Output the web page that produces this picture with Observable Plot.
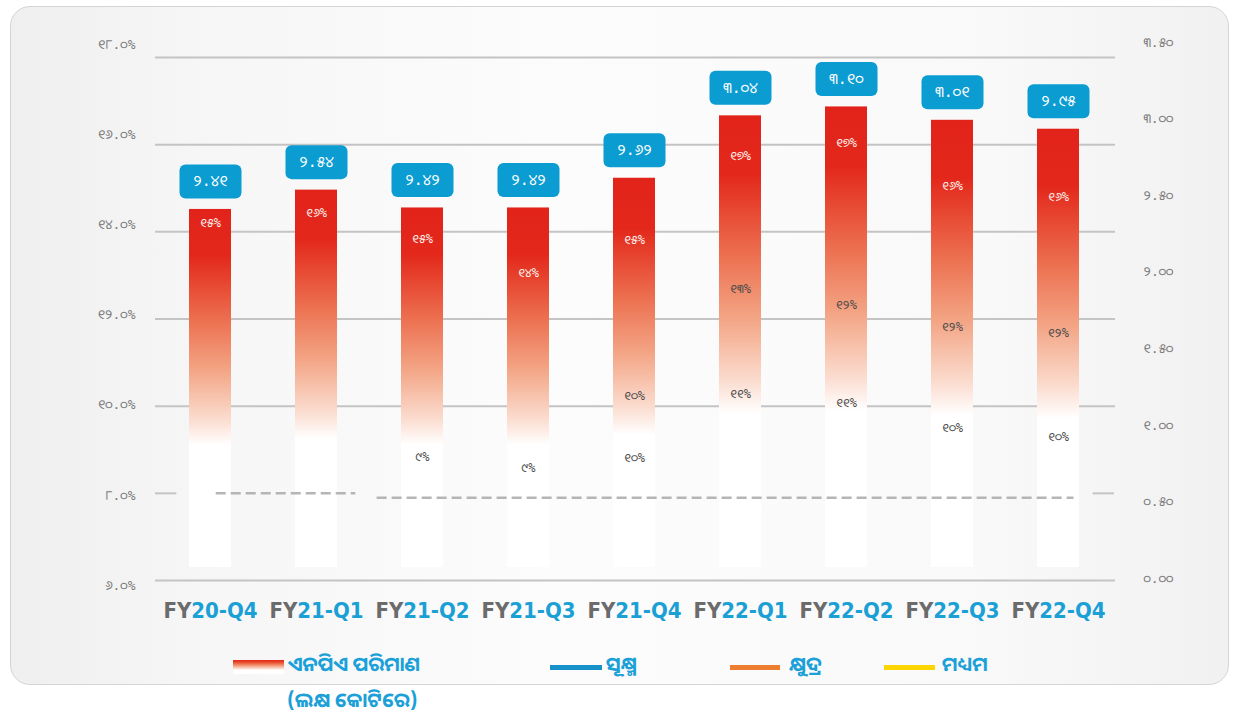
<!DOCTYPE html>
<html>
<head>
<meta charset="utf-8">
<script src="https://cdn.jsdelivr.net/npm/d3@7"></script>
<script src="https://cdn.jsdelivr.net/npm/@observablehq/plot@0.6"></script>
<style>
html, body { margin:0; padding:0; background:#ffffff; width:1239px; height:715px; overflow:hidden;
  font-family:"Noto Sans Oriya","Noto Sans Odia","Lohit Odia","Kalinga","Noto Sans","DejaVu Sans",sans-serif; }
#card { position:absolute; left:10px; top:6px; width:1219px; height:679px; box-sizing:border-box;
  border:1.5px solid #d4d4d4; border-radius:20px;
  background:linear-gradient(90deg,#efefef 0%,#f6f6f6 15%,#fcfcfc 45%,#f9f9f9 80%,#f1f1f1 100%); }
#chart { position:absolute; left:0; top:0; width:1239px; height:640px; }
#chart svg { position:absolute; left:0; top:0; overflow:visible; background:transparent; }
.leg { position:absolute; color:#1ba0d8; font-size:20px; font-weight:bold; line-height:1; white-space:nowrap; }
.sw { position:absolute; }
</style>
</head>
<body>
<svg width="0" height="0" style="position:absolute">
  <defs>
    <linearGradient id="barGrad" x1="0" y1="0" x2="0" y2="1">
      <stop offset="0" stop-color="#e2231a"/>
      <stop offset="0.13" stop-color="#e3281b"/>
      <stop offset="0.31" stop-color="#ec7050"/>
      <stop offset="0.45" stop-color="#f3a585"/>
      <stop offset="0.59" stop-color="#fbddd0"/>
      <stop offset="0.66" stop-color="#ffffff"/>
      <stop offset="1" stop-color="#ffffff"/>
    </linearGradient>
  </defs>
</svg>
<div id="card"></div>
<div id="chart"></div>

<div class="sw" style="left:233px;top:660px;width:51px;height:14px;background:linear-gradient(to bottom,#e2231a 0%,#e9502f 18%,#f29a78 40%,#fbd9cb 60%,#ffffff 72%,#ffffff 100%);"></div>
<div class="leg" style="left:288px;top:654px;">ଏନପିଏ ପରିମାଣ</div>
<div class="leg" style="left:287px;top:690px;">(ଲକ୍ଷ କୋଟିରେ)</div>
<div class="sw" style="left:550px;top:665px;width:52px;height:5px;background:#1791c9;"></div>
<div class="leg" style="left:606px;top:654px;">ସୂକ୍ଷ୍ମ</div>
<div class="sw" style="left:730px;top:665px;width:50px;height:5px;background:#ed7d31;"></div>
<div class="leg" style="left:789px;top:654px;">କ୍ଷୁଦ୍ର</div>
<div class="sw" style="left:884px;top:665px;width:51px;height:5px;background:#ffd500;"></div>
<div class="leg" style="left:942px;top:654px;">ମଧ୍ୟମ</div>

<script>
// ---------- data ----------
const categories = ["FY20-Q4","FY21-Q1","FY21-Q2","FY21-Q3","FY21-Q4","FY22-Q1","FY22-Q2","FY22-Q3","FY22-Q4"];
// NPA volume (lakh crore) - bars, right axis
const npaVolume = [2.41, 2.54, 2.42, 2.42, 2.62, 3.04, 3.10, 3.01, 2.95];
// segment NPA rates (hidden series, shown only as labels)
const sukshmaRate   = [15.16, 15.41, 14.74, 13.87, 14.72, 16.87, 17.21, 16.10, 15.82];
const sukshmaLabel  = [15, 16, 15, 14, 15, 17, 17, 16, 16];
const kshudraRate   = [null, null, null, null, 10.72, 13.46, 13.05, 12.49, 12.33];
const kshudraLabel  = [null, null, null, null, 10, 13, 12, 12, 12];
const madhyamaRate  = [null, null, 9.15, 8.87, 9.13, 10.79, 10.56, 9.90, 9.67];
const madhyamaLabel = [null, null, 9, 9, 10, 11, 11, 10, 10];
// axes
const leftTicks = [6, 8, 10, 12, 14, 16, 18];
const rightTicks = [0, 0.5, 1, 1.5, 2, 2.5, 3, 3.5];
const fullGridLevels = [6, 10, 12, 14, 16, 18];
// 8% reference line pieces (category index units)
const refPieces = [
  {from:-0.5, to:-0.3, level:8.0, dashed:false},
  {from:0.07, to:1.38, level:8.0, dashed:true},
  {from:1.58, to:8.12, level:7.9, dashed:true},
  {from:8.3,  to:8.5,  level:8.0, dashed:false}
];

// ---------- helpers ----------
const odiaDigits = "୦୧୨୩୪୫୬୭୮୯";
const toOdia = s => String(s).replace(/[0-9]/g, d => odiaDigits[+d]);
const W = 1239, H = 640;
const X_RANGE = [155, 1114];
const numFont = "'DejaVu Sans Mono','Noto Sans Oriya','Lohit Odia','DejaVu Sans',monospace";

const bars = categories.map((c, i) => ({cat:c, v:npaVolume[i]}));
const pctRows = [];
categories.forEach((c, i) => {
  pctRows.push({cat:c, v:sukshmaRate[i], lab:sukshmaLabel[i], s:"top"});
  if (kshudraRate[i] != null) pctRows.push({cat:c, v:kshudraRate[i], lab:kshudraLabel[i], s:"mid"});
  if (madhyamaRate[i] != null) pctRows.push({cat:c, v:madhyamaRate[i], lab:madhyamaLabel[i], s:"low"});
});

const chart = document.getElementById("chart");
const base = {width:W, height:H, marginLeft:155, marginRight:124, marginTop:0, marginBottom:73,
  style:{background:"transparent", overflow:"visible"}};
const gridX = {type:"linear", domain:[-0.5, 8.5], range:X_RANGE, axis:null};
const gridY = {domain:[6, 18], range:[580, 57], axis:null};

// layer 1: gridlines
chart.append(Plot.plot({...base, x:gridX, y:gridY,
  marks:[
    Plot.ruleY(fullGridLevels, {stroke:"#c4c4c4", strokeWidth:2}),
    Plot.ruleY(refPieces.filter(d => !d.dashed), {y:"level", x1:"from", x2:"to", stroke:"#c4c4c4", strokeWidth:2})
  ]
}));

// layer 2: left axis labels
chart.append(Plot.plot({...base,
  x:{type:"linear", domain:[0,1], axis:null},
  y:{domain:[6, 18], range:[585, 44], axis:null},
  marks:[
    Plot.axisY(leftTicks, {anchor:"left", tickSize:0, tickPadding:20, fontSize:13, fill:"#7a7a7a",
      fontFamily:numFont, label:null, tickFormat: d => toOdia(d.toFixed(1)) + "%"})
  ]
}));

// layer 3: right axis labels
chart.append(Plot.plot({...base,
  x:{type:"linear", domain:[0,1], axis:null},
  y:{domain:[0, 3.5], range:[578, 42], axis:null},
  marks:[
    Plot.axisY(rightTicks, {anchor:"right", tickSize:0, tickPadding:28, fontSize:13, fill:"#7a7a7a",
      fontFamily:numFont, label:null, tickFormat: d => toOdia(d.toFixed(2))})
  ]
}));

// layer 4: bars, value boxes, x axis
const boxSymbol = {
  draw(ctx) {
    const w = 31, h = 17, r = 6;
    ctx.moveTo(-w + r, -h);
    ctx.lineTo(w - r, -h); ctx.arcTo(w, -h, w, -h + r, r);
    ctx.lineTo(w, h - r); ctx.arcTo(w, h, w - r, h, r);
    ctx.lineTo(-w + r, h); ctx.arcTo(-w, h, -w, h - r, r);
    ctx.lineTo(-w, -h + r); ctx.arcTo(-w, -h, -w + r, -h, r);
    ctx.closePath();
  }
};
const barSvg = Plot.plot({...base,
  x:{type:"band", domain:categories, range:X_RANGE, paddingInner:0.6, paddingOuter:0.3, axis:null},
  y:{domain:[0, 3.5], range:[567, 47], axis:null},
  marks:[
    Plot.barY(bars, {x:"cat", y:"v", fill:"url(#barGrad)"}),
    Plot.dot(bars, {x:"cat", y:"v", symbol:boxSymbol, r:10, fill:"#0b9cd2", stroke:"none", dy:-28}),
    Plot.text(bars, {x:"cat", y:"v", dy:-28, text: d => toOdia(d.v.toFixed(2)), fill:"#ffffff",
      fontSize:15, fontFamily:numFont}),
    Plot.axisX({anchor:"bottom", tickSize:0, tickPadding:35, fontSize:22, fontWeight:"bold", label:null,
      fontFamily:"'DejaVu Sans Condensed','Liberation Sans Narrow','Roboto Condensed',sans-serif", fill:"#1ba0d6"})
  ]
});
chart.append(barSvg);
d3.select(barSvg).selectAll("text").each(function() {
  const t = this.textContent;
  if (/^FY/.test(t)) {
    const sel = d3.select(this);
    sel.text(null);
    sel.style("font-stretch", "condensed");
    sel.append("tspan").attr("fill", "#6b6b6b").text("FY");
    sel.append("tspan").attr("fill", "#1ba0d6").text(t.slice(2));
  }
});

// layer 5: dashed reference line drawn over the bars
chart.append(Plot.plot({...base, x:gridX, y:gridY,
  marks:[
    Plot.ruleY(refPieces.filter(d => d.dashed), {y:"level", x1:"from", x2:"to", stroke:"#b5b5b5", strokeWidth:2.5, strokeDasharray:"10,5"})
  ]
}));

// layer 6: percent labels of segment series
chart.append(Plot.plot({...base,
  x:{type:"band", domain:categories, range:X_RANGE, paddingInner:0.6, paddingOuter:0.3, axis:null},
  y:{domain:[6, 20], range:[580, 34], axis:null},
  marks:[
    Plot.text(pctRows, {x:"cat", y:"v", text: d => toOdia(d.lab) + "%",
      fill: d => d.s === "top" ? "#fff4f0" : "#4a4a4a", fontSize:12, fontFamily:numFont})
  ]
}));
</script>
</body>
</html>
